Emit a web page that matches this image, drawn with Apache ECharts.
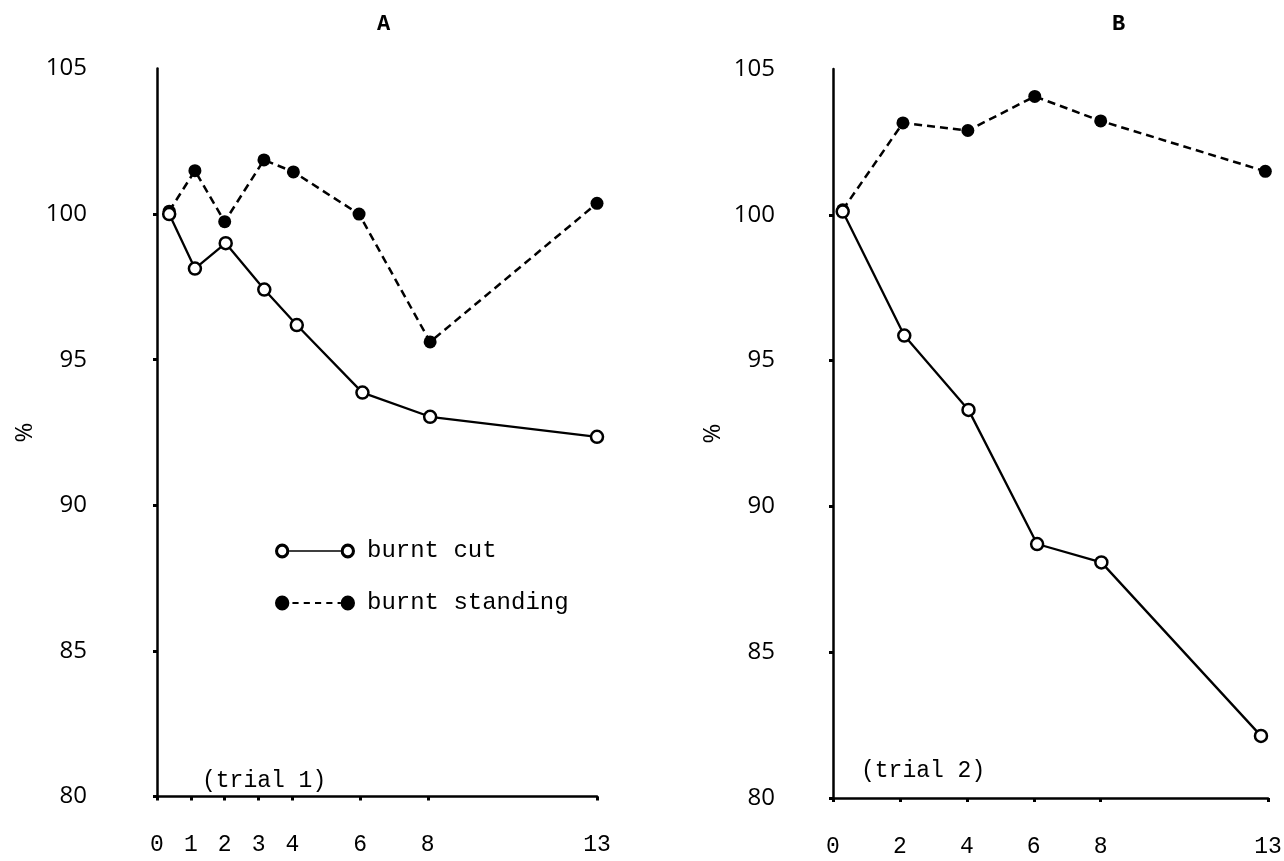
<!DOCTYPE html>
<html>
<head>
<meta charset="utf-8">
<script src="https://cdn.jsdelivr.net/npm/echarts@6/dist/echarts.min.js"></script>
<style>
html,body{margin:0;padding:0;background:#fff;}
#chart{width:1284px;height:861px;}
</style>
</head>
<body>
<div id="chart"></div>
<script>
// ---- data ----
const panelTitles = ['A', 'B'];
const trialLabels = ['(trial 1)', '(trial 2)'];
const seriesNames = ['burnt cut', 'burnt standing'];

// Panel A (trial 1)
const daysACut   = [0.36, 1.12, 2.03, 3.17, 4.13, 6.07, 8.07, 13.0];
const cutA       = [100.0, 98.13, 99.0, 97.41, 96.19, 93.87, 93.04, 92.35];
const daysAStand = [0.36, 1.12, 2.0, 3.16, 4.03, 5.97, 8.07, 13.0];
const standA     = [100.1, 101.49, 99.74, 101.86, 101.45, 100.0, 95.61, 100.37];

// Panel B (trial 2)
const daysBCut   = [0.29, 2.13, 4.05, 6.1, 8.02, 12.79];
const cutB       = [100.11, 95.86, 93.31, 88.71, 88.08, 82.13];
const daysBStand = [0.29, 2.09, 4.03, 6.03, 8.0, 12.92];
const standB     = [100.17, 103.15, 102.89, 104.06, 103.22, 101.49];

// Tick values / labels
const xTicksA = [0, 1, 2, 3, 4, 6, 8, 13];
const xTicksB = [0, 2, 4, 6, 8, 13];
const yTicks  = [80, 85, 90, 95, 100, 105];

const pairs = (xs, ys) => xs.map((x, i) => [x, ys[i]]);

const MONO = '"Liberation Mono", "DejaVu Sans Mono", monospace';
const SANS = '"Open Sans", "Noto Sans", sans-serif';

function xAxis(gridIndex, ticks) {
  return {
    type: 'value', gridIndex, min: 0, max: 13,
    axisLine: { show: true, onZero: false, lineStyle: { color: '#000', width: 2.5 } },
    axisTick: { show: true, customValues: ticks, length: 4, inside: false, lineStyle: { color: '#000', width: 3 } },
    axisLabel: { show: true, customValues: ticks, margin: 37, color: '#000', fontFamily: MONO, fontSize: 23,
                 formatter: v => String(v) },
    splitLine: { show: false }
  };
}
function yAxis(gridIndex, margin, nameGap) {
  return {
    type: 'value', gridIndex, min: 80, max: 105, interval: 5,
    name: '%', nameLocation: 'middle', nameRotate: 90, nameGap: nameGap,
    nameTextStyle: { color: '#000', fontFamily: SANS, fontSize: 24 },
    axisLine: { show: true, onZero: false, lineStyle: { color: '#000', width: 2.5 } },
    axisTick: { show: true, customValues: yTicks.slice(0, -1), length: 4, inside: false, lineStyle: { color: '#000', width: 3 } },
    axisLabel: { show: true, margin: margin, color: '#000', fontFamily: SANS, fontSize: 24,
                 formatter: v => String(v) },
    splitLine: { show: false }
  };
}

const cutStyle = {
  type: 'line', name: seriesNames[0], symbol: 'circle', symbolSize: 12,
  lineStyle: { color: '#000', width: 2.3, type: 'solid' },
  itemStyle: { color: '#fff', borderColor: '#000', borderWidth: 2.5 },
  z: 4, clip: false, animation: false
};
const standStyle = {
  type: 'line', name: seriesNames[1], symbol: 'circle', symbolSize: 13,
  lineStyle: { color: '#000', width: 2.5, type: [8, 5] },
  itemStyle: { color: '#000' },
  z: 3, clip: false, animation: false
};

// legend icon paths (ring-line-ring and dot-dashes-dot), 78 x 14
const ringIcon = 'path://M0,7A7,7 0 1,1 14,7A7,7 0 1,1 0,7Z M3,7A4,4 0 1,0 11,7A4,4 0 1,0 3,7Z ' +
  'M14,6.2L64,6.2L64,7.8L14,7.8Z ' +
  'M64,7A7,7 0 1,1 78,7A7,7 0 1,1 64,7Z M67,7A4,4 0 1,0 75,7A4,4 0 1,0 67,7Z';
const dotIcon = 'path://M0,7A7,7 0 1,1 14,7A7,7 0 1,1 0,7Z ' +
  'M17,6L23,6L23,8L17,8Z M28,6L34,6L34,8L28,8Z M39,6L45,6L45,8L39,8Z M50,6L56,6L56,8L50,8Z M61,6L64,6L64,8L61,8Z ' +
  'M64,7A7,7 0 1,1 78,7A7,7 0 1,1 64,7Z';

const chart = echarts.init(document.getElementById('chart'), null, { renderer: 'canvas' });
chart.setOption({
  backgroundColor: '#fff',
  animation: false,
  title: [
    { text: panelTitles[0], left: 372, top: 8, textStyle: { fontFamily: MONO, fontSize: 22, fontWeight: 'bold', color: '#000' } },
    { text: panelTitles[1], left: 1107, top: 8, textStyle: { fontFamily: MONO, fontSize: 22, fontWeight: 'bold', color: '#000' } },
    { text: trialLabels[0], left: 197, top: 764, textStyle: { fontFamily: MONO, fontSize: 23, fontWeight: 'normal', color: '#000' } },
    { text: trialLabels[1], left: 856, top: 754, textStyle: { fontFamily: MONO, fontSize: 23, fontWeight: 'normal', color: '#000' } }
  ],
  legend: {
    orient: 'vertical', left: 270, top: 534, itemWidth: 80, itemHeight: 15, itemGap: 28,
    symbolKeepAspect: false,
    textStyle: { fontFamily: MONO, fontSize: 24, color: '#000', padding: [0, 0, 0, 7] },
    selectedMode: false,
    data: [
      { name: seriesNames[0], icon: ringIcon, itemStyle: { color: '#000', borderWidth: 0 } },
      { name: seriesNames[1], icon: dotIcon, itemStyle: { color: '#000', borderWidth: 0 } }
    ]
  },
  grid: [
    { left: 157, top: 68.5, width: 440, height: 728, containLabel: false, outerBoundsMode: 'none' },
    { left: 833, top: 69, width: 435, height: 729, containLabel: false, outerBoundsMode: 'none' }
  ],
  xAxis: [xAxis(0, xTicksA), xAxis(1, xTicksB)],
  yAxis: [yAxis(0, 70, 120), yAxis(1, 58, 108)],
  series: [
    Object.assign({}, standStyle, { xAxisIndex: 0, yAxisIndex: 0, data: pairs(daysAStand, standA) }),
    Object.assign({}, cutStyle,   { xAxisIndex: 0, yAxisIndex: 0, data: pairs(daysACut, cutA) }),
    Object.assign({}, standStyle, { xAxisIndex: 1, yAxisIndex: 1, data: pairs(daysBStand, standB) }),
    Object.assign({}, cutStyle,   { xAxisIndex: 1, yAxisIndex: 1, data: pairs(daysBCut, cutB) })
  ]
});
</script>
</body>
</html>
